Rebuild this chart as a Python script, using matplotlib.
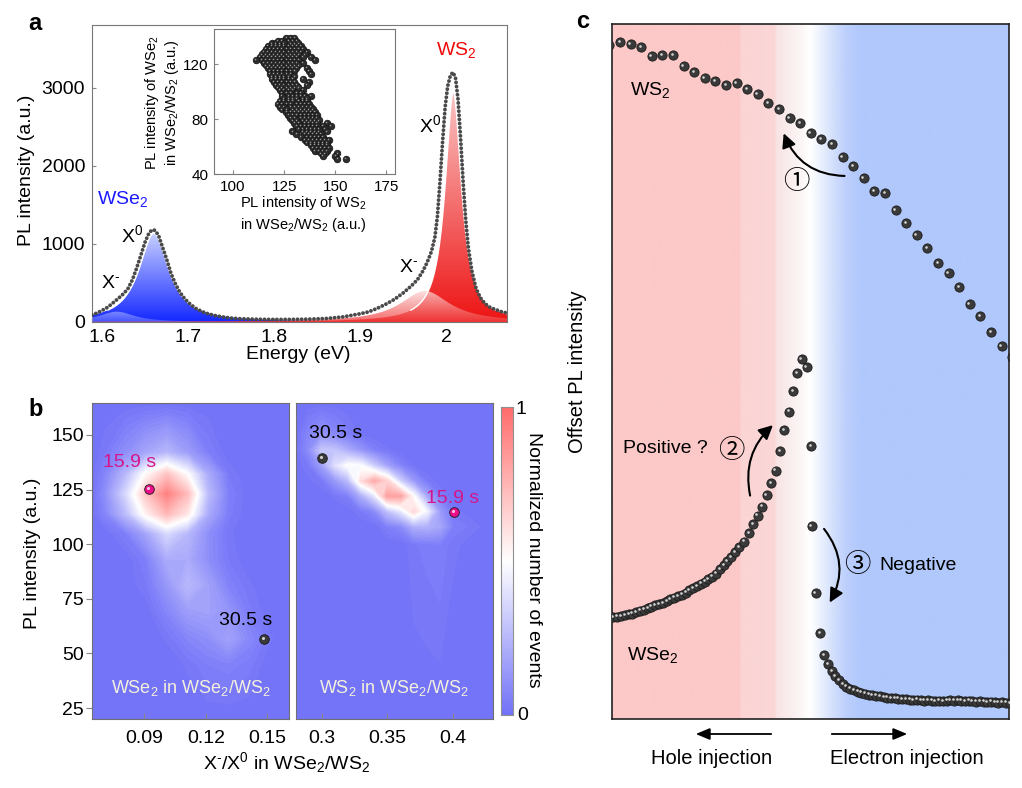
import numpy as np
import matplotlib
matplotlib.use("Agg")
import matplotlib.pyplot as plt
from matplotlib.colors import LinearSegmentedColormap
from matplotlib.patches import FancyArrowPatch
from matplotlib.transforms import offset_copy

plt.rcParams['font.family'] = ['Liberation Sans', 'DejaVu Sans']
plt.rcParams['mathtext.fontset'] = 'custom'
plt.rcParams['mathtext.rm'] = 'Liberation Sans'
plt.rcParams['mathtext.it'] = 'Liberation Sans:italic'
plt.rcParams['mathtext.bf'] = 'Liberation Sans:bold'
plt.rcParams['mathtext.default'] = 'regular'
plt.rcParams['font.size'] = 14

# ---------------- panel a : PL spectrum ----------------
energy = [1.588, 1.595, 1.600, 1.605, 1.610, 1.615, 1.620, 1.625, 1.630, 1.635,
          1.640, 1.645, 1.650, 1.654, 1.657, 1.660, 1.663, 1.666, 1.670, 1.675,
          1.680, 1.685, 1.690, 1.695, 1.700, 1.705, 1.710, 1.720, 1.730, 1.740,
          1.750, 1.760, 1.780, 1.800, 1.820, 1.840, 1.860, 1.880, 1.900, 1.910,
          1.920, 1.930, 1.940, 1.950, 1.960, 1.967, 1.973, 1.978, 1.983, 1.987,
          1.990, 1.993, 1.996, 1.999, 2.002, 2.005, 2.008, 2.011, 2.014, 2.017,
          2.020, 2.023, 2.026, 2.030, 2.035, 2.040, 2.045, 2.050, 2.055, 2.060,
          2.065, 2.071]
pl_counts = [90, 120, 150, 180, 222, 268, 315, 365, 430, 540,
             690, 860, 1030, 1130, 1170, 1180, 1150, 1090, 960, 800,
             620, 490, 385, 310, 250, 205, 165, 115, 85, 65,
             50, 42, 35, 32, 33, 36, 44, 65, 105, 130,
             175, 228, 290, 370, 465, 545, 650, 760, 900, 1080,
             1350, 1800, 2300, 2750, 3020, 3150, 3195, 3130, 2850, 2350,
             1780, 1300, 950, 660, 430, 310, 240, 195, 170, 150,
             130, 115]

# lorentzian fit components: WSe2 X-, WSe2 X0, WS2 X-, WS2 X0
peak_center = [1.617, 1.660, 1.9756, 2.0085]
peak_height = [132, 1135, 397, 2948]
peak_hwhm = [0.025, 0.021, 0.035, 0.0115]
peak_top = ['#c2caff', '#c8d0ff', '#fcdada', '#fac6c6']
peak_bottom = ['#6a78ff', '#1428ff', '#f03c3c', '#ee1414']
peak_alpha = [0.55, 1.0, 0.75, 1.0]
peak_z = [3, 2, 3, 2]

# inset scatter (WS2 intensity vs WSe2 intensity)
inset_row_y = [139, 137, 135, 133, 131, 129, 127, 125, 123, 121, 119, 117, 115, 113, 111,
               109, 107, 105, 103, 101, 99, 97, 95, 93, 91, 89, 87, 85, 83, 81,
               79, 77, 75, 73, 71, 69, 67, 65, 63, 61, 59, 57, 55, 53, 51]
inset_row_x = [
    [126, 128, 130],
    [122, 124, 127, 129, 131],
    [119, 121, 123, 125, 128, 130, 132],
    [117, 119, 121, 123, 125, 127, 129, 131, 133],
    [116, 118, 120, 122, 124, 126, 128, 130, 132, 134],
    [115, 117, 119, 121, 123, 125, 127, 129, 131, 133, 136],
    [114, 116, 118, 120, 122, 124, 126, 128, 130, 132, 135],
    [113, 115, 117, 119, 121, 123, 125, 127, 129, 131, 134, 138],
    [111, 114, 116, 118, 120, 122, 124, 126, 128, 130, 132, 140],
    [115, 117, 119, 121, 123, 125, 127, 129, 131, 134],
    [116, 118, 120, 122, 124, 126, 128, 130, 132],
    [117, 119, 121, 123, 125, 127, 129, 131, 136],
    [118, 120, 122, 124, 126, 128, 130, 137],
    [118, 120, 122, 124, 126, 128, 138],
    [119, 121, 123, 125, 127, 130],
    [119, 121, 123, 125, 127, 129, 134],
    [120, 122, 124, 126, 128, 130, 137],
    [121, 123, 125, 127, 129, 131, 136],
    [122, 124, 126, 128, 130, 132],
    [123, 125, 127, 129, 134],
    [124, 126, 128, 131, 133],
    [124, 127, 129, 131, 133, 135, 138],
    [125, 127, 129, 131, 134, 136],
    [123, 125, 127, 129, 132, 134, 136],
    [122, 124, 126, 128, 131, 133, 135, 137],
    [123, 125, 128, 130, 132, 134, 136, 138],
    [124, 126, 129, 131, 133, 135, 137, 139],
    [126, 128, 130, 132, 134, 136, 138, 140],
    [127, 129, 131, 133, 135, 137, 139, 141],
    [128, 130, 133, 135, 137, 139, 141],
    [129, 131, 134, 136, 138, 140, 142],
    [130, 132, 135, 137, 139, 141, 146],
    [131, 133, 135, 137, 139, 141, 144, 148],
    [132, 134, 136, 138, 140, 142, 145],
    [129, 134, 136, 138, 140, 142, 146],
    [131, 135, 137, 139, 141, 143],
    [133, 136, 138, 140, 142, 144],
    [135, 137, 139, 141, 143, 145, 147],
    [136, 138, 140, 142, 144, 146],
    [138, 140, 142, 144, 146],
    [139, 141, 143, 145, 147],
    [140, 142, 144, 146],
    [143, 145, 151],
    [144, 150],
    [151, 155],
]

# ---------------- panel b : event density maps ----------------
wse2_grid_x = [0.0645, 0.071, 0.081, 0.091, 0.101, 0.111, 0.121, 0.131, 0.141, 0.151, 0.1605]
wse2_grid_y = [20, 45, 57, 69, 81, 93, 105, 114, 123, 132, 142, 165]
wse2_density = [
    [0, 0, 0, 0, 0, 0, 0, 0, 0, 0, 0],
    [0, 0, 0, 0, 0, 0.02, 0.05, 0.06, 0.04, 0, 0],
    [0, 0, 0, 0, 0.02, 0.07, 0.1, 0.17, 0.08, 0.02, 0],
    [0, 0, 0, 0, 0.07, 0.15, 0.17, 0.12, 0.04, 0, 0],
    [0, 0, 0, 0.03, 0.13, 0.25, 0.17, 0.06, 0.02, 0, 0],
    [0, 0, 0, 0.05, 0.2, 0.2, 0.1, 0.03, 0, 0, 0],
    [0, 0, 0.05, 0.18, 0.36, 0.25, 0.1, 0.02, 0, 0, 0],
    [0, 0.07, 0.26, 0.55, 0.74, 0.58, 0.2, 0.04, 0, 0, 0],
    [0, 0.1, 0.36, 0.7, 0.92, 0.72, 0.26, 0.05, 0, 0, 0],
    [0, 0.07, 0.25, 0.52, 0.7, 0.5, 0.2, 0.03, 0, 0, 0],
    [0, 0.03, 0.1, 0.18, 0.24, 0.15, 0.05, 0, 0, 0, 0],
    [0, 0, 0, 0, 0, 0, 0, 0, 0, 0, 0],
]
ws2_grid_x = [0.28, 0.29, 0.30, 0.31, 0.32, 0.33, 0.34, 0.35, 0.36, 0.37, 0.38, 0.39, 0.40, 0.43]
ws2_grid_y = [20, 100, 108, 115, 122, 129, 136, 143, 150, 165]
ws2_density = [
    [0, 0, 0, 0, 0, 0, 0, 0, 0, 0, 0, 0, 0, 0],
    [0, 0, 0, 0, 0, 0, 0, 0, 0, 0.03, 0.04, 0.05, 0.02, 0],
    [0, 0, 0, 0, 0, 0, 0, 0.05, 0.08, 0.21, 0.22, 0.18, 0.05, 0],
    [0, 0, 0, 0, 0, 0.03, 0.08, 0.27, 0.4, 0.63, 0.45, 0.14, 0.02, 0],
    [0, 0, 0, 0.02, 0.05, 0.2, 0.39, 0.81, 0.8, 0.49, 0.18, 0.04, 0, 0],
    [0, 0.01, 0.03, 0.13, 0.25, 0.61, 0.78, 0.63, 0.32, 0.13, 0.03, 0, 0, 0],
    [0, 0.03, 0.15, 0.38, 0.5, 0.48, 0.31, 0.16, 0.06, 0.01, 0, 0, 0, 0],
    [0, 0.09, 0.3, 0.29, 0.2, 0.12, 0.05, 0.02, 0, 0, 0, 0, 0, 0],
    [0, 0.07, 0.12, 0.08, 0.04, 0.01, 0, 0, 0, 0, 0, 0, 0, 0],
    [0, 0, 0, 0, 0, 0, 0, 0, 0, 0, 0, 0, 0, 0],
]
# (ratio, intensity) at 15.9 s and 30.5 s
wse2_t159 = (0.0924, 125.4)
wse2_t305 = (0.1483, 56.6)
ws2_t159 = (0.4005, 114.9)
ws2_t305 = (0.300, 139.6)

# ---------------- panel c : offset PL traces ----------------
ws2_offset = [674, 677, 675, 672, 663, 664, 664, 653, 647, 641, 638, 634, 636, 630, 625,
              616, 610, 601, 596, 586, 580, 575, 562, 553, 541, 528, 526, 509, 496, 484,
              471, 456, 446, 432, 415, 403, 387, 373, 362]
ws2_time = np.arange(len(ws2_offset)) * 10.6 - 2.7

wse2_time = [1, 5, 9, 13, 17, 20, 24, 28, 32, 36, 39, 43, 47, 51, 55, 58, 62, 66, 70, 74,
             77, 81, 85, 89, 93, 96, 100, 104, 108, 112, 115, 119, 123, 127,
             132, 137, 141.3, 145.7, 150.3, 154.7, 159, 163.7, 168, 172.3, 177, 181.3, 185.3,
             189.7, 194.7, 199, 199.5, 203.7, 208,
             212, 216, 220, 223, 227, 231, 234, 238, 242, 246, 249, 253, 257, 260, 264, 268,
             272, 275, 279, 283, 286, 290, 294, 298, 301, 305, 309, 312, 316, 320, 323, 327,
             331, 335, 338, 342, 346, 349, 353, 357, 360, 364, 368, 372, 375, 379, 383, 386,
             390, 394, 398]
wse2_offset = [102, 102.5, 103, 104, 105, 105.5, 107, 108.5, 109.5, 111, 112.5, 114, 115, 116,
               118, 120, 121.5, 123, 124.5, 126.5, 129, 131, 133, 135.5, 137.5, 140, 142.5,
               145.5, 150, 154, 158, 162, 167, 172,
               177.3, 185.7, 194.7, 203.3, 212.3, 224, 235.7, 248.3, 268, 289, 307.3, 328,
               345.7, 359.7, 351.7, 273, 193, 125.7, 85.7,
               64, 55, 48, 43, 39, 35, 32.5, 30.5, 29, 27.5, 26.5, 25.5, 24.5, 24, 23.5, 23,
               22, 21.5, 21, 21, 20.5, 20, 20, 19.5, 19, 19.5, 19, 18.5, 19, 18.5, 18, 18.5,
               18, 18.5, 19, 18.5, 19, 18.5, 18, 18.5, 18, 17.5, 18, 17.5, 17, 17.5, 17, 16.5,
               17, 16.5, 16]

W, H = 1022, 788
fig = plt.figure(figsize=(W / 100, H / 100), dpi=100)


def box(x0, y0, x1, y1):
    return [x0 / W, 1 - y1 / H, (x1 - x0) / W, (y1 - y0) / H]


def ftext(px, py, s, **kw):
    fig.text(px / W, 1 - py / H, s, **kw)


def spheres(ax, x, y, size, color, hl, hsize, z=4, dx=-0.8, dy=0.8):
    ax.scatter(x, y, s=size, c=color, edgecolors='#1a1a1a', linewidths=0.6, zorder=z)
    tr = offset_copy(ax.transData, fig=fig, x=dx, y=dy, units='points')
    ax.scatter(x, y, s=hsize, c=hl, linewidths=0, zorder=z + 0.1, transform=tr)


def lorentz(x, c, h, g):
    return h / (1 + ((x - c) / g) ** 2)


# ======== panel a ========
axa = fig.add_axes(box(92, 25, 507, 322))
e_fit = np.linspace(energy[0], energy[-1], 800)
grad = np.linspace(0, 1, 256).reshape(-1, 1)
for k in [1, 3, 0, 2]:
    yk = lorentz(e_fit, peak_center[k], peak_height[k], peak_hwhm[k])
    poly = axa.fill_between(e_fit, 0, yk, facecolor='none', edgecolor='none')
    cm = LinearSegmentedColormap.from_list('g%d' % k, [peak_bottom[k], peak_top[k]])
    im = axa.imshow(grad, cmap=cm, aspect='auto', origin='lower',
                    extent=[e_fit[0], e_fit[-1], 0, yk.max()],
                    alpha=peak_alpha[k], zorder=peak_z[k])
    im.set_clip_path(poly.get_paths()[0], transform=axa.transData)
    if k in (1, 3):
        axa.plot(e_fit, np.where(yk > 150, yk, np.nan), color='white', lw=1.0, zorder=3.5)

axa.plot(energy, pl_counts, color='#4a4a4a', lw=2.8, ls=(0, (0.01, 1.05)),
         dash_capstyle='round', zorder=5)
axa.set_xlim(1.588, 2.071)
axa.set_ylim(0, 3800)
axa.set_xticks([1.6, 1.7, 1.8, 1.9, 2.0])
axa.set_xticklabels(['1.6', '1.7', '1.8', '1.9', '2'])
axa.set_yticks([0, 1000, 2000, 3000])
axa.tick_params(direction='in', length=3, color='#888888', labelsize=14, pad=5)
for sp in axa.spines.values():
    sp.set_color('#777777')
minus = '$^{\u2010}$'
ftext(298, 354, 'Energy (eV)', ha='center', va='center', fontsize=14)
ftext(27, 170, 'PL intensity (a.u.)', ha='center', va='center', rotation=90, fontsize=14)
ftext(97, 199, 'WSe$_2$', color='#1a1aff', ha='left', va='center', fontsize=14)
ftext(121, 235, 'X$^0$', ha='left', va='center', fontsize=14)
ftext(101, 283, 'X' + minus, ha='left', va='center', fontsize=14)
ftext(436, 50, 'WS$_2$', color='#f00808', ha='left', va='center', fontsize=14)
ftext(419, 125, 'X$^0$', ha='left', va='center', fontsize=14)
ftext(399, 268, 'X' + minus, ha='left', va='center', fontsize=14)
ftext(35, 24, 'a', fontweight='bold', ha='center', va='center', fontsize=17)

# inset
axi = fig.add_axes(box(214, 29, 395, 174))
ix = np.concatenate([np.array(r, float) for r in inset_row_x])
iy = np.concatenate([np.full(len(r), yv, float) for r, yv in zip(inset_row_x, inset_row_y)])
spheres(axi, ix, iy, 22, '#2e2e2e', '#9a9a9a', 1.2, dx=-0.5, dy=0.5)
axi.set_xlim(90.7, 179.2)
axi.set_ylim(40, 145.5)
axi.set_xticks([100, 125, 150, 175])
axi.set_yticks([40, 80, 120])
axi.tick_params(direction='in', length=3, color='#888888', labelsize=11, pad=4)
for sp in axi.spines.values():
    sp.set_color('#777777')
ftext(162, 103, 'PL intensity of WSe$_2$\nin WSe$_2$/WS$_2$ (a.u.)', rotation=90,
      ha='center', va='center', fontsize=10.5, multialignment='center', linespacing=1.2)
ftext(303, 214, 'PL intensity of WS$_2$\nin WSe$_2$/WS$_2$ (a.u.)', ha='center',
      va='center', fontsize=10.5, multialignment='center', linespacing=1.3)

# ======== panel b ========
heat = LinearSegmentedColormap.from_list('heat', [(0, '#7272f8'), (0.5, '#ffffff'), (1, '#ff6c6c')])
levels = np.linspace(0, 1, 61)
axl = fig.add_axes(box(92, 403, 289, 719))
axr = fig.add_axes(box(295.5, 403, 492.5, 719))
for ax, gx, gy, z in [(axl, wse2_grid_x, wse2_grid_y, wse2_density),
                      (axr, ws2_grid_x, ws2_grid_y, ws2_density)]:
    ax.set_facecolor('#7272f8')
    cs = ax.contourf(gx, gy, np.array(z), levels=levels, cmap=heat, vmin=0, vmax=1, zorder=1)
    cs.set_edgecolor('face')
    cs.set_linewidth(0.3)
    ax.set_ylim(20, 164.6)
    for sp in ax.spines.values():
        sp.set_color('#707070')

axl.set_xlim(0.0645, 0.1605)
axl.set_xticks([0.09, 0.12, 0.15])
axl.set_xticklabels(['0.09', '0.12', '0.15'])
axl.set_yticks([25, 50, 75, 100, 125, 150])
axl.tick_params(axis='y', direction='out', length=4, color='#888888', labelsize=14, pad=2)
axl.tick_params(axis='x', direction='in', length=4, color='#888888', labelsize=14, pad=8)
axr.set_xlim(0.28, 0.43)
axr.set_xticks([0.30, 0.35, 0.40])
axr.set_xticklabels(['0.3', '0.35', '0.4'])
axr.set_yticks([])
axr.tick_params(axis='x', direction='in', length=4, color='#888888', labelsize=14, pad=8)

spheres(axl, [wse2_t159[0]], [wse2_t159[1]], 48, '#ec0f8c', '#ffc4e2', 5, z=5)
spheres(axl, [wse2_t305[0]], [wse2_t305[1]], 48, '#3a3a3a', '#d0d0d0', 5, z=5)
spheres(axr, [ws2_t159[0]], [ws2_t159[1]], 48, '#ec0f8c', '#ffc4e2', 5, z=5)
spheres(axr, [ws2_t305[0]], [ws2_t305[1]], 48, '#3a3a3a', '#d0d0d0', 5, z=5)
axl.text(0.0697, 137.3, '15.9 s', color='#d4168a', fontsize=14, ha='left', va='center')
axl.text(0.1265, 65.1, '30.5 s', color='black', fontsize=14, ha='left', va='center')
axr.text(0.2904, 150.8, '30.5 s', color='black', fontsize=14, ha='left', va='center')
axr.text(0.3794, 121, '15.9 s', color='#d4168a', fontsize=14, ha='left', va='center')
axl.text(0.5, 0.097, 'WSe$_2$ in WSe$_2$/WS$_2$', transform=axl.transAxes, color='#f4f0dc',
         fontsize=13, ha='center', va='center')
axr.text(0.5, 0.097, 'WS$_2$ in WSe$_2$/WS$_2$', transform=axr.transAxes, color='#f4f0dc',
         fontsize=13, ha='center', va='center')

cax = fig.add_axes(box(501, 407, 513, 715))
cax.imshow(grad, cmap=heat, aspect='auto', origin='lower', extent=[0, 1, 0, 1])
cax.set_xticks([])
cax.set_yticks([])
for sp in cax.spines.values():
    sp.set_color('#909090')
ftext(521, 410, '1', ha='center', va='center', fontsize=14)
ftext(523, 715, '0', ha='center', va='center', fontsize=14)
ftext(533, 560, 'Normalized number of events', rotation=270, ha='center', va='center', fontsize=14)
ftext(287, 763, 'X' + minus + '/X$^0$ in WSe$_2$/WS$_2$', ha='center', va='center', fontsize=14)
ftext(33, 553, 'PL intensity (a.u.)', rotation=90, ha='center', va='center', fontsize=14)
ftext(36, 410, 'b', fontweight='bold', ha='center', va='center', fontsize=17)

# ======== panel c ========
axc = fig.add_axes(box(612, 24, 1009, 719))
bg = LinearSegmentedColormap.from_list('bg', [
    (0.0, '#fcc8c8'), (0.32, '#fcc8c8'), (0.325, '#fbd4d4'), (0.41, '#fbd7d7'),
    (0.415, '#f8e4e4'), (0.47, '#fbf4f4'), (0.50, '#ffffff'), (0.545, '#dce6fc'),
    (0.59, '#bccffc'), (0.63, '#b0c8fc'), (1.0, '#b0c8fc')])
axc.imshow(np.linspace(0, 1, 512).reshape(1, -1), cmap=bg, aspect='auto',
           extent=[0, 397, 0, 695], zorder=0)
spheres(axc, ws2_time, ws2_offset, 44, '#3a3a3a', '#d4d4d4', 3.5, dx=-0.9, dy=0.9)
spheres(axc, wse2_time, wse2_offset, 44, '#3a3a3a', '#d4d4d4', 3.5, dx=-0.9, dy=0.9)
axc.set_xlim(0, 397)
axc.set_ylim(0, 695)
axc.set_xticks([])
axc.set_yticks([])
for sp in axc.spines.values():
    sp.set_color('#222222')
    sp.set_linewidth(1.2)

arrow_kw = dict(arrowstyle='-|>,head_length=0.6,head_width=0.3', mutation_scale=14,
                color='black', lw=1.5, zorder=6)
axc.add_patch(FancyArrowPatch((235.3, 543), (170.7, 588.3),
                              connectionstyle='arc3,rad=-0.35', **arrow_kw))
axc.add_patch(FancyArrowPatch((138.7, 220.7), (163, 295.7),
                              connectionstyle='arc3,rad=-0.3', **arrow_kw))
axc.add_patch(FancyArrowPatch((210.3, 192.3), (216.3, 114),
                              connectionstyle='arc3,rad=-0.35', **arrow_kw))
circ_font = ['Noto Sans CJK SC', 'DejaVu Sans']
axc.text(184, 538, '①', family=circ_font, fontsize=19, ha='center', va='center', zorder=7)
axc.text(119.7, 269, '②', family=circ_font, fontsize=19, ha='center', va='center', zorder=7)
axc.text(245.7, 154, '③', family=circ_font, fontsize=19, ha='center', va='center', zorder=7)
axc.text(11.3, 270.7, 'Positive ?', fontsize=14, ha='left', va='center', zorder=7)
axc.text(267.3, 154, 'Negative', fontsize=14, ha='left', va='center', zorder=7)
axc.text(18, 629, 'WS$_2$', fontsize=14, ha='left', va='center', zorder=7)
axc.text(14.7, 64, 'WSe$_2$', fontsize=14, ha='left', va='center', zorder=7)

fig.add_artist(FancyArrowPatch((774 / W, 1 - 734 / H), (693 / W, 1 - 734 / H),
                               transform=fig.transFigure, arrowstyle='-|>,head_length=0.6,head_width=0.25',
                               mutation_scale=14, color='black', lw=1.3))
fig.add_artist(FancyArrowPatch((829 / W, 1 - 734 / H), (910 / W, 1 - 734 / H),
                               transform=fig.transFigure, arrowstyle='-|>,head_length=0.6,head_width=0.25',
                               mutation_scale=14, color='black', lw=1.3))
ftext(712, 759, 'Hole injection', ha='center', va='center', fontsize=14.5)
ftext(907, 759, 'Electron injection', ha='center', va='center', fontsize=14.5)
ftext(577, 372, 'Offset PL intensity', rotation=90, ha='center', va='center', fontsize=14.5)
ftext(583, 22, 'c', fontweight='bold', ha='center', va='center', fontsize=17)

fig.savefig('out.png', dpi=100)
